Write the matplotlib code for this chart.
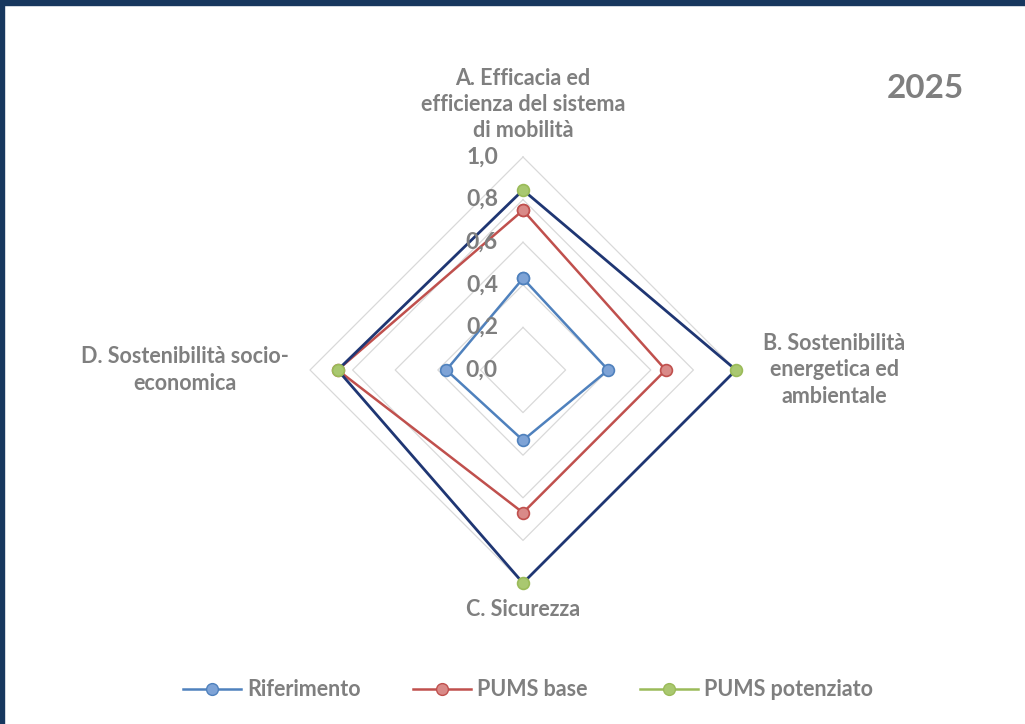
import numpy as np
import matplotlib
matplotlib.use("Agg")
from matplotlib import pyplot as plt
from matplotlib.lines import Line2D
import matplotlib.patches as mpatches

plt.rcParams['font.family'] = ['Lato', 'DejaVu Sans']

# Data
categories = ["A. Efficacia ed\nefficienza del sistema\ndi mobilità",
              "B. Sostenibilità\nenergetica ed\nambientale",
              "C. Sicurezza",
              "D. Sostenibilità socio-\neconomica"]
riferimento = [0.43, 0.40, 0.33, 0.36]
pums_base = [0.75, 0.67, 0.67, 0.87]
pums_potenziato = [0.845, 1.0, 1.0, 0.87]
r_ticks = [0.0, 0.2, 0.4, 0.6, 0.8, 1.0]
r_labels = ["0,0", "0,2", "0,4", "0,6", "0,8", "1,0"]
title = "2025"

W, H = 1025, 724
fig = plt.figure(figsize=(W / 100, H / 100), dpi=100)
fig.patch.set_facecolor("white")

# dark frame on top and left
fig.patches.append(mpatches.Rectangle((0, 1 - 5 / H), 1, 5 / H, transform=fig.transFigure,
                                      color="#17375E", zorder=0))
fig.patches.append(mpatches.Rectangle((0, 0), 4 / W, 1, transform=fig.transFigure,
                                      color="#17375E", zorder=0))

# polar axes placed on the chart centre
cx, cy, R = 523, 370, 213
ax = fig.add_axes([(cx - R) / W, (H - cy - R) / H, 2 * R / W, 2 * R / H], projection="polar")
ax.set_theta_offset(np.pi / 2)
ax.set_theta_direction(-1)
ax.set_ylim(0, 1)
ax.grid(False)
ax.spines["polar"].set_visible(False)
ax.set_xticks([])
ax.set_yticks([])
ax.patch.set_alpha(0)

n = len(categories)
angles = np.linspace(0, 2 * np.pi, n, endpoint=False)
closed = np.concatenate([angles, angles[:1]])

# diamond gridlines
for r in r_ticks[1:]:
    ax.plot(closed, [r] * (n + 1), color="#D9D9D9", lw=0.9, zorder=1, clip_on=False)

def close(v):
    return list(v) + [v[0]]

mk = dict(marker="o", ms=8.5, mew=1.2, clip_on=False)
ax.plot(closed, close(riferimento), color="#4F81BD", lw=1.8, mfc="#7EA3D6", mec="#4F81BD",
        zorder=3, **mk)
ax.plot(closed, close(pums_base), color="#C0504D", lw=1.8, mfc="#D98A88", mec="#C0504D",
        zorder=3, **mk)
ax.plot(closed, close(pums_potenziato), color="#1F3673", lw=2.0, zorder=3, clip_on=False)
ax.plot(angles, pums_potenziato, ls="none", mfc="#A9C870", mec="#9BBB59", zorder=4, **mk)

# radial tick labels
for r, lab in zip(r_ticks, r_labels):
    ax.annotate(lab, xy=(0, r), xytext=(-25, 0), textcoords="offset pixels",
                ha="right", va="center", fontsize=16.5, fontweight="bold",
                color="#7F7F7F", zorder=5, annotation_clip=False)

# category labels
lab_kw = dict(fontsize=15.5, fontweight="bold", color="#7F7F7F", linespacing=1.3,
              annotation_clip=False)
ax.annotate(categories[0], xy=(angles[0], 1), xytext=(0, 16), textcoords="offset pixels",
            ha="center", va="bottom", **lab_kw)
ax.annotate(categories[1], xy=(angles[1], 1), xytext=(98, 0), textcoords="offset pixels",
            ha="center", va="center", **lab_kw)
ax.annotate(categories[2], xy=(angles[2], 1), xytext=(0, -16), textcoords="offset pixels",
            ha="center", va="top", **lab_kw)
ax.annotate(categories[3], xy=(angles[3], 1), xytext=(-125, 0), textcoords="offset pixels",
            ha="center", va="center", **lab_kw)

fig.text(925 / W, 1 - 88 / H, title, ha="center", va="center", fontsize=24,
         fontweight="bold", color="#7F7F7F")

handles = [
    Line2D([], [], color="#4F81BD", lw=1.8, marker="o", ms=8.5, mfc="#7EA3D6", mec="#4F81BD"),
    Line2D([], [], color="#C0504D", lw=1.8, marker="o", ms=8.5, mfc="#D98A88", mec="#C0504D"),
    Line2D([], [], color="#9BBB59", lw=1.8, marker="o", ms=8.5, mfc="#A9C870", mec="#9BBB59"),
]
leg = fig.legend(handles, ["Riferimento", "PUMS base", "PUMS potenziato"], loc="center",
                 bbox_to_anchor=(528 / W, 1 - 690 / H), ncol=3, frameon=False,
                 fontsize=15.5, handlelength=2.7, columnspacing=2.4, handletextpad=0.3)
for t in leg.get_texts():
    t.set_color("#7F7F7F")
    t.set_fontweight("bold")

fig.savefig("out.png", dpi=100)
